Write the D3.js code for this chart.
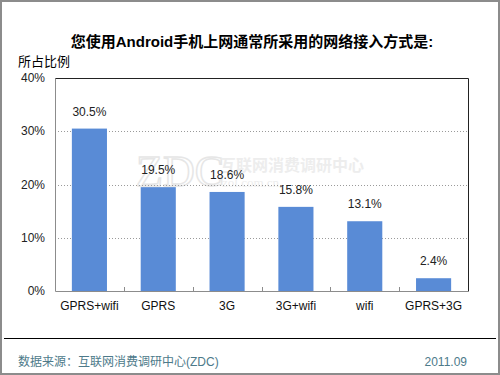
<!DOCTYPE html>
<html lang="zh">
<head>
<meta charset="UTF-8">
<script src="https://d3js.org/d3.v7.min.js"></script>
<style>
    body { margin: 0; background: #fff; }
    svg { display: block; font-family: "Liberation Sans", Arial, "Noto Sans CJK SC", sans-serif; }
</style>
</head>
<body>
<svg width="500" height="375"></svg>
<script>
    const categories = ["GPRS+wifi", "GPRS", "3G", "3G+wifi", "wifi", "GPRS+3G"];
    const values = [30.5, 19.5, 18.6, 15.8, 13.1, 2.4];
    const yTicks = [0, 10, 20, 30, 40];

    const svg = d3.select("svg");
    const W = 500, H = 375;
    const plotLeft = 55, plotRight = 468, plotTop = 78, plotBottom = 291;

    // outer frame
    svg.append("rect")
        .attr("x", 1).attr("y", 1).attr("width", W - 2).attr("height", H - 2)
        .attr("fill", "#fff").attr("stroke", "#8c8c8c").attr("stroke-width", 2);

    svg.append("text")
        .attr("x", 252).attr("y", 47)
        .attr("text-anchor", "middle")
        .style("font-size", "15px").style("font-weight", "bold")
        .attr("fill", "#000")
        .text("您使用Android手机上网通常所采用的网络接入方式是:");

    svg.append("text")
        .attr("x", 18).attr("y", 66)
        .style("font-size", "13px").attr("fill", "#000")
        .text("所占比例");

    // watermark
    const wm = svg.append("g").attr("fill", "#ededed");
    wm.append("text").attr("x", 136).attr("y", 186)
        .style("font-size", "44px").style("font-family", "'Liberation Serif', serif")
        .attr("fill", "none").attr("stroke", "#e6e6e6").attr("stroke-width", 1.5)
        .text("ZDC");
    wm.append("text").attr("x", 220).attr("y", 171)
        .style("font-size", "16px").style("font-weight", "bold")
        .text("互联网消费调研中心");
    wm.append("text").attr("x", 222).attr("y", 187)
        .style("font-size", "13px").style("font-family", "'Liberation Serif', serif")
        .text("zol.com.cn");

    const x = d3.scaleBand().domain(categories).range([plotLeft, plotRight]).paddingInner(0.49).paddingOuter(0.245);
    const y = d3.scaleLinear().domain([0, 40]).range([plotBottom, plotTop]);

    // gridlines
    svg.append("g").selectAll("line")
        .data(yTicks.filter(d => d > 0 && d < 40))
        .join("line")
        .attr("x1", plotLeft).attr("x2", plotRight)
        .attr("y1", d => Math.round(y(d)) + 0.5).attr("y2", d => Math.round(y(d)) + 0.5)
        .attr("stroke", "#9a9a9a").attr("stroke-dasharray", "1,2");

    // plot frame
    svg.append("path")
        .attr("d", `M${plotLeft + 0.5},${plotBottom + 0.5}V${plotTop + 0.5}`)
        .attr("stroke", "#8c8c8c").attr("fill", "none");
    svg.append("path")
        .attr("d", `M${plotLeft + 0.5},${plotTop + 0.5}H${plotRight + 0.5}V${plotBottom + 0.5}`)
        .attr("stroke", "#222").attr("fill", "none");
    svg.append("path")
        .attr("d", `M${plotLeft + 0.5},${plotBottom + 0.5}H${plotRight + 0.5}`)
        .attr("stroke", "#8c8c8c").attr("fill", "none");

    // y labels
    svg.append("g").selectAll("text")
        .data(yTicks)
        .join("text")
        .attr("x", 45).attr("y", d => y(d) + 4)
        .attr("text-anchor", "end")
        .style("font-size", "12px").attr("fill", "#222")
        .text(d => d + "%");

    // category ticks
    const step = x.step();
    svg.append("g").selectAll("line")
        .data(categories.slice(1))
        .join("line")
        .attr("x1", d => Math.round(x(d) - x.paddingInner() * step / 2) + 0.5)
        .attr("x2", d => Math.round(x(d) - x.paddingInner() * step / 2) + 0.5)
        .attr("y1", plotBottom).attr("y2", plotBottom - 4)
        .attr("stroke", "#8c8c8c");

    // bars
    svg.append("g").selectAll("rect")
        .data(values)
        .join("rect")
        .attr("x", (d, i) => x(categories[i]))
        .attr("width", x.bandwidth())
        .attr("y", d => y(d))
        .attr("height", d => plotBottom - y(d))
        .attr("fill", "#598bd6");

    svg.append("g").selectAll("text")
        .data(values)
        .join("text")
        .attr("x", (d, i) => x(categories[i]) + x.bandwidth() / 2)
        .attr("y", d => y(d) - 13)
        .attr("text-anchor", "middle")
        .style("font-size", "12px").attr("fill", "#222")
        .text(d => d.toFixed(1) + "%");

    svg.append("g").selectAll("text")
        .data(categories)
        .join("text")
        .attr("x", d => x(d) + x.bandwidth() / 2)
        .attr("y", 310)
        .attr("text-anchor", "middle")
        .style("font-size", "12px").attr("fill", "#111")
        .text(d => d);

    // footer
    svg.append("line")
        .attr("x1", 4).attr("x2", 496).attr("y1", 338.5).attr("y2", 338.5)
        .attr("stroke", "#000");
    svg.append("text")
        .attr("x", 18).attr("y", 366)
        .style("font-size", "12px").attr("fill", "#4d7a8a")
        .text("数据来源：互联网消费调研中心(ZDC)");
    svg.append("text")
        .attr("x", 467).attr("y", 366)
        .attr("text-anchor", "end")
        .style("font-size", "12px").attr("fill", "#4d7a8a")
        .text("2011.09");
</script>
</body>
</html>
